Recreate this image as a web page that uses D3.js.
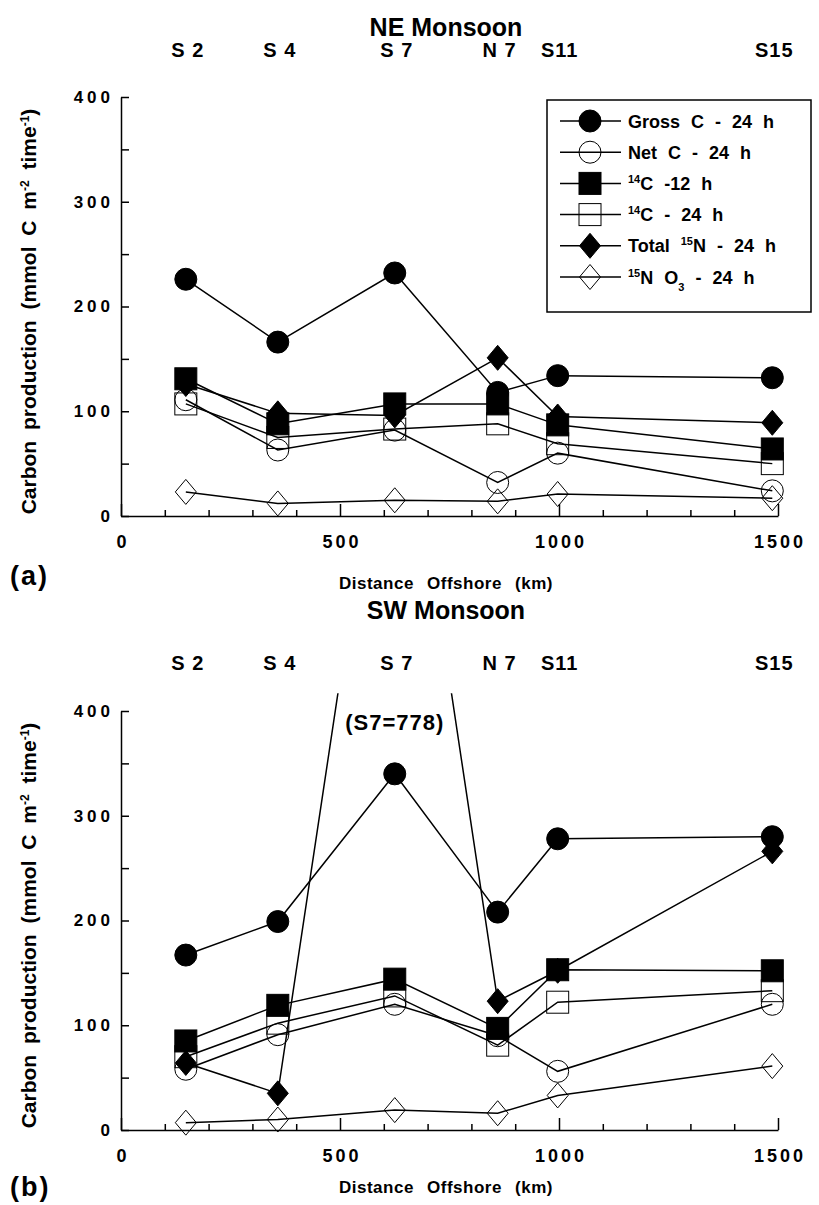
<!DOCTYPE html>
<html>
<head>
<meta charset="utf-8">
<script src="https://cdn.jsdelivr.net/npm/d3@7"></script>
<style>
  body { margin: 0; background: #fff; }
  text { font-family: "Liberation Sans", Arial, Helvetica, sans-serif; font-weight: bold; fill: #000; }
</style>
</head>
<body>
<script>
// Stations along the transect and their distance offshore (km)
const stations = ["S 2", "S 4", "S 7", "N 7", "S11", "S15"];
const distanceKm = [148, 358, 625, 860, 997, 1487];

// NE Monsoon (mmol C m-2 time-1)
const neGrossC   = [226, 166, 232, 118, 134, 132];
const neNetC     = [111,  63,  82,  32,  60,  24];
const ne14C12    = [131,  88, 107, 107,  87,  64];
const ne14C24    = [107,  75,  83,  88,  69,  50];
const neTotal15N = [126,  98,  96, 151,  95,  89];
const ne15NO3    = [ 23,  12,  15,  14,  21,  17];

// SW Monsoon (S7 total 15N is off scale = 778)
const swGrossC   = [167, 199, 340, 208, 278, 280];
const swNetC     = [ 58,  91, 120,  90,  56, 120];
const sw14C12    = [ 85, 119, 144,  97, 153, 152];
const sw14C24    = [ 70, 102, 128,  81, 122, 133];
const swTotal15N = [ 64,  35, 778, 123, 152, 266];
const sw15NO3    = [  7,  10,  19,  16,  33,  61];

// Legend labels, split in pieces for super/subscripts
const legendLabels = [
  [["Gross C - 24 h"]],
  [["Net C - 24 h"]],
  [["14", "sup"], ["C -12 h"]],
  [["14", "sup"], ["C - 24 h"]],
  [["Total "], ["15", "sup"], ["N - 24 h"]],
  [["15", "sup"], ["N O"], ["3", "sub"], [" - 24 h"]]
];
const markerKinds = ["circle", "circle", "square", "square", "diamond", "diamond"];
const markerFilled = [true, false, true, false, true, false];

const xTicksMajor = [0, 500, 1000, 1500];
const xTicksMinor = [100, 200, 300, 400, 600, 700, 800, 900, 1100, 1200, 1300, 1400];
const yTicks = [0, 50, 100, 150, 200, 250, 300, 350, 400];

const W = 819, H = 1205;
const LEFT = 121, RIGHT = 778;

const svg = d3.select("body").append("svg")
  .attr("width", W)
  .attr("height", H);

const x = d3.scaleLinear().domain([0, 1500]).range([LEFT, RIGHT]);

// draw a marker centred at (cx, cy)
function marker(g, kind, filled, cx, cy) {
  let el;
  if (kind === "circle") {
    el = g.append("circle").attr("cx", cx).attr("cy", cy).attr("r", 11);
  } else if (kind === "square") {
    el = g.append("rect").attr("x", cx - 11).attr("y", cy - 11)
      .attr("width", 22).attr("height", 22);
  } else {
    el = g.append("path")
      .attr("d", `M${cx},${cy - 12.5}L${cx + 10.5},${cy}L${cx},${cy + 12.5}L${cx - 10.5},${cy}Z`);
  }
  el.attr("fill", filled ? "#000" : "none").attr("stroke", "#000").attr("stroke-width", 1);
}

// write text pieces with super/subscripts
function richText(t, pieces, small) {
  let shift = 0;
  pieces.forEach(p => {
    const ts = t.append("tspan").text(p[0]);
    let target = 0;
    if (p[1] === "sup") { target = -7; ts.attr("font-size", small); }
    if (p[1] === "sub") { target = 7; ts.attr("font-size", small); }
    if (target !== shift) ts.attr("dy", target - shift);
    shift = target;
  });
}

function drawPanel(cfg) {
  const y = d3.scaleLinear().domain([0, 400]).range([cfg.bottom, cfg.top]);
  const g = svg.append("g");

  // title
  g.append("text")
    .attr("x", 446).attr("y", cfg.titleY)
    .attr("text-anchor", "middle")
    .attr("font-size", 25)
    .text(cfg.title);

  // station names
  g.selectAll(".stn").data(stations).enter().append("text")
    .attr("x", (d, i) => x(distanceKm[i]) + 2)
    .attr("y", cfg.stationY)
    .attr("text-anchor", "middle")
    .attr("font-size", 20)
    .attr("letter-spacing", 1)
    .text(d => d);

  // axes
  const xMajor = d3.axisBottom(x).tickValues(xTicksMajor)
    .tickSizeInner(-12).tickSizeOuter(0).tickPadding(19)
    .tickFormat(d3.format("d"));
  const xMinor = d3.axisBottom(x).tickValues(xTicksMinor)
    .tickSizeInner(-6).tickSizeOuter(0).tickFormat("");
  const yAxis = d3.axisLeft(y).tickValues(yTicks)
    .tickSizeInner(-8).tickSizeOuter(0).tickPadding(7)
    .tickFormat(d => d % 100 === 0 ? d : "");

  const gxm = g.append("g").attr("transform", `translate(0,${cfg.bottom})`).call(xMinor);
  gxm.select(".domain").remove();
  const gx = g.append("g").attr("transform", `translate(0,${cfg.bottom})`).call(xMajor);
  const gy = g.append("g").attr("transform", `translate(${LEFT},0)`).call(yAxis);
  [gx, gxm, gy].forEach(a => {
    a.attr("font-family", null).attr("font-size", null);
    a.selectAll("line, path").attr("stroke", "#000").attr("stroke-width", 1.5);
  });
  gx.selectAll("text").attr("font-size", 18).attr("letter-spacing", 3).attr("dx", 1.5);
  gy.selectAll("text").attr("font-size", 17).attr("letter-spacing", 4);

  // axis titles
  const yt = g.append("text")
    .attr("transform", `translate(36,${(cfg.top + cfg.bottom) / 2 + 5}) rotate(-90)`)
    .attr("text-anchor", "middle")
    .attr("font-size", 21)
    .attr("word-spacing", 5);
  richText(yt, [["Carbon production (mmol C m"], ["-2", "sup"], [" time"], ["-1", "sup"], [")"]], 12);

  g.append("text")
    .attr("x", 446).attr("y", cfg.xTitleY)
    .attr("text-anchor", "middle")
    .attr("font-size", 17)
    .attr("word-spacing", 8)
    .attr("letter-spacing", 0.5)
    .text("Distance Offshore (km)");

  g.append("text")
    .attr("x", 10).attr("y", cfg.panelY)
    .attr("font-size", 27)
    .attr("letter-spacing", 2)
    .text(cfg.panel);

  // data
  const clipId = "clip" + cfg.panel.replace(/\W/g, "");
  svg.append("clipPath").attr("id", clipId).append("rect")
    .attr("x", 0).attr("y", y(cfg.clipTop))
    .attr("width", W).attr("height", cfg.bottom + 40 - y(cfg.clipTop));
  const plot = g.append("g").attr("clip-path", `url(#${clipId})`);

  const line = d3.line().x((d, i) => x(distanceKm[i])).y(d => y(d));
  cfg.series.forEach(vals => {
    plot.append("path").datum(vals)
      .attr("d", line)
      .attr("fill", "none")
      .attr("stroke", "#000")
      .attr("stroke-width", 1.5);
  });
  cfg.series.forEach((vals, s) => {
    vals.forEach((v, i) => marker(plot, markerKinds[s], markerFilled[s], x(distanceKm[i]), y(v)));
  });

  return { g, y };
}

// Panel (a)
const a = drawPanel({
  title: "NE Monsoon", titleY: 36, stationY: 57,
  top: 97, bottom: 516, clipTop: 420,
  xTitleY: 589, panel: "(a)", panelY: 585,
  series: [neGrossC, neNetC, ne14C12, ne14C24, neTotal15N, ne15NO3]
});

// legend
const leg = a.g.append("g");
leg.append("rect")
  .attr("x", 547).attr("y", 100).attr("width", 264).attr("height", 212)
  .attr("fill", "#fff").attr("stroke", "#000").attr("stroke-width", 1.5);
legendLabels.forEach((lab, i) => {
  const cy = 121 + i * 31.2;
  leg.append("line").attr("x1", 560).attr("x2", 621).attr("y1", cy).attr("y2", cy)
    .attr("stroke", "#000").attr("stroke-width", 1.5);
  marker(leg, markerKinds[i], markerFilled[i], 590, cy);
  const t = leg.append("text").attr("x", 628).attr("y", cy + 6.5)
    .attr("font-size", 18).attr("word-spacing", 6);
  richText(t, lab, 11);
});

// Panel (b)
const b = drawPanel({
  title: "SW Monsoon", titleY: 619, stationY: 670,
  top: 711, bottom: 1130, clipTop: 417,
  xTitleY: 1193, panel: "(b)", panelY: 1196,
  series: [swGrossC, swNetC, sw14C12, sw14C24, swTotal15N, sw15NO3]
});

b.g.append("text")
  .attr("x", x(distanceKm[2])).attr("y", 730)
  .attr("text-anchor", "middle")
  .attr("font-size", 22)
  .attr("letter-spacing", 1)
  .text("(S7=778)");
</script>
</body>
</html>
